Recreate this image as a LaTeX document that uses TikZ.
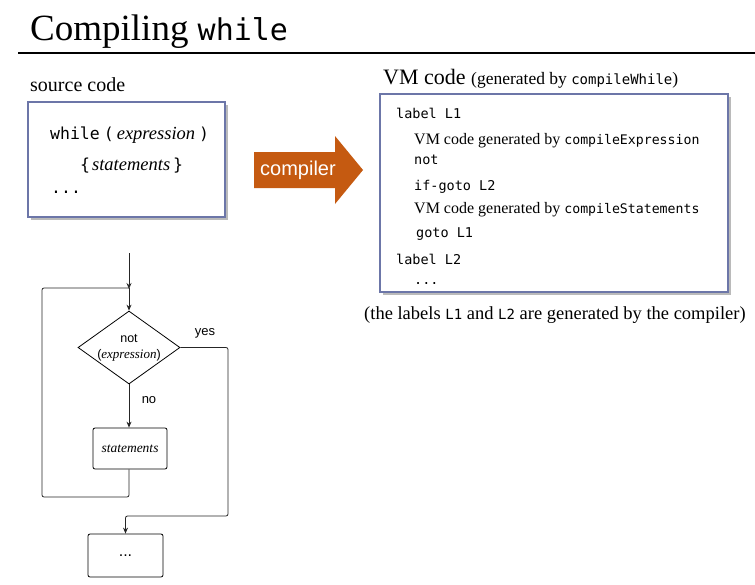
\documentclass[tikz,border=0pt]{standalone}
\usepackage{fontspec}
\setmainfont{Liberation Serif}
\setsansfont{Liberation Sans}
\setmonofont{DejaVu Sans Mono}
\usetikzlibrary{arrows.meta,shapes.geometric,shadows}
\definecolor{boxline}{HTML}{6C76A8}
\definecolor{arrowfill}{HTML}{C55A11}
\tikzset{
  codebox/.style={draw=boxline,line width=1.2pt,fill=white,
    drop shadow={shadow xshift=2.5pt,shadow yshift=-2.5pt,opacity=0.45,fill=black!60}},
  txt/.style={anchor=base west,inner sep=0pt},
  flow/.style={line width=0.8pt,black!85},
  flowarrow/.style={flow,-{Stealth[length=6pt,width=5pt]}},
  fbox/.style={draw,line width=0.8pt,rounded corners=2pt,inner sep=0pt}
}
\begin{document}
\begin{tikzpicture}[x=1pt,y=-1pt]
\useasboundingbox (0,0) rectangle (755,584);
% title
\node[txt] (title) at (30,40) {\fontsize{37}{40}\selectfont Compiling {\fontsize{30}{34}\selectfont\ttfamily while}};
\draw[line width=1.6pt] (18,53) -- (755,53);

% source code
\node[txt] (srclabel) at (30,91) {\fontsize{20}{22}\selectfont source code};
\node[codebox,minimum width=197pt,minimum height=115pt] (src) at (126.5,159.5) {};
\node[txt] (l1) at (50,139) {\fontsize{16.5}{18}\selectfont\ttfamily while\hspace{4pt}(\hspace{3pt}{\rmfamily\itshape\fontsize{18.5}{20}\selectfont expression}\hspace{4pt})};
\node[txt] (l2) at (80,170) {\fontsize{16.5}{18}\selectfont\ttfamily\{\hspace{2pt}{\rmfamily\itshape\fontsize{18.5}{20}\selectfont statements}\hspace{3pt}\}};
\node[txt] (l3) at (51,193) {\fontsize{16.5}{18}\selectfont\ttfamily ...};

% compiler arrow
\fill[arrowfill] (254,152) -- (335,152) -- (335,136) -- (363,170) -- (335,204) -- (335,188) -- (254,188) -- cycle;
\node[inner sep=0pt,text=white] (comp) at (298,170) {\fontsize{20}{22}\selectfont\sffamily compiler};

% VM code
\node[txt] (vmlabel) at (383,84) {\fontsize{22}{24}\selectfont VM code {\fontsize{17.5}{19}\selectfont(generated by {\ttfamily\fontsize{14}{16}\selectfont compileWhile})}};
\node[codebox,minimum width=348pt,minimum height=198pt] (vm) at (554,193) {};
\node[txt] (v1) at (396,118) {\fontsize{13.5}{16}\selectfont\ttfamily label L1};
\node[txt] (v2) at (414,144) {\fontsize{16}{18}\selectfont VM code generated by {\ttfamily\fontsize{13.2}{16}\selectfont compileExpression}};
\node[txt] (v3) at (414,164) {\fontsize{13.5}{16}\selectfont\ttfamily not};
\node[txt] (v4) at (414,190) {\fontsize{13.5}{16}\selectfont\ttfamily if-goto L2};
\node[txt] (v5) at (414,213) {\fontsize{16}{18}\selectfont VM code generated by {\ttfamily\fontsize{13.2}{16}\selectfont compileStatements}};
\node[txt] (v6) at (416,237) {\fontsize{13.5}{16}\selectfont\ttfamily goto L1};
\node[txt] (v7) at (396,264) {\fontsize{13.5}{16}\selectfont\ttfamily label L2};
\node[txt] (v8) at (414,284) {\fontsize{13.5}{16}\selectfont\ttfamily ...};
\node[txt] (cap) at (364,319) {\fontsize{18.5}{20}\selectfont (the labels {\ttfamily\fontsize{14}{16}\selectfont L1} and {\ttfamily\fontsize{14}{16}\selectfont L2} are generated by the compiler)};

% flowchart
\coordinate (start) at (129,253);
\coordinate (join) at (129,288);
\node[diamond,draw,line width=0.8pt,aspect=1.4,minimum width=102pt,minimum height=73pt,inner sep=0pt,align=center,font=\sffamily\fontsize{12.5}{16}\selectfont] (d) at (129,347.5) {not\\({\rmfamily\itshape\fontsize{13}{16}\selectfont expression})};
\node[fbox,minimum width=74pt,minimum height=41pt,font=\rmfamily\itshape\fontsize{13.5}{15}\selectfont] (s) at (130,448.5) {statements};
\node[fbox,minimum width=75pt,minimum height=43pt,font=\sffamily\fontsize{16}{18}\selectfont] (e) at (125.5,555.5) {...};
\node[inner sep=0pt,font=\sffamily\fontsize{13}{15}\selectfont] (yes) at (205,333) {yes};
\node[inner sep=0pt,font=\sffamily\fontsize{13}{15}\selectfont] (no) at (149,400) {no};

\draw[flowarrow] (start) -- ([yshift=-1pt]join);
\draw[flowarrow] (join) -- (d.north);
\draw[flowarrow] (d.south) -- (s.north -| d.south);
\draw[flow,rounded corners=2pt] (s.south -| d.south) -- (129,497) -- (42,497) -- (42,288) -- (join);
\draw[flowarrow,rounded corners=2pt] (d.east) -- (228,347.5) -- (228,516) -- (125.5,516) -- (e.north);
\end{tikzpicture}
\end{document}
